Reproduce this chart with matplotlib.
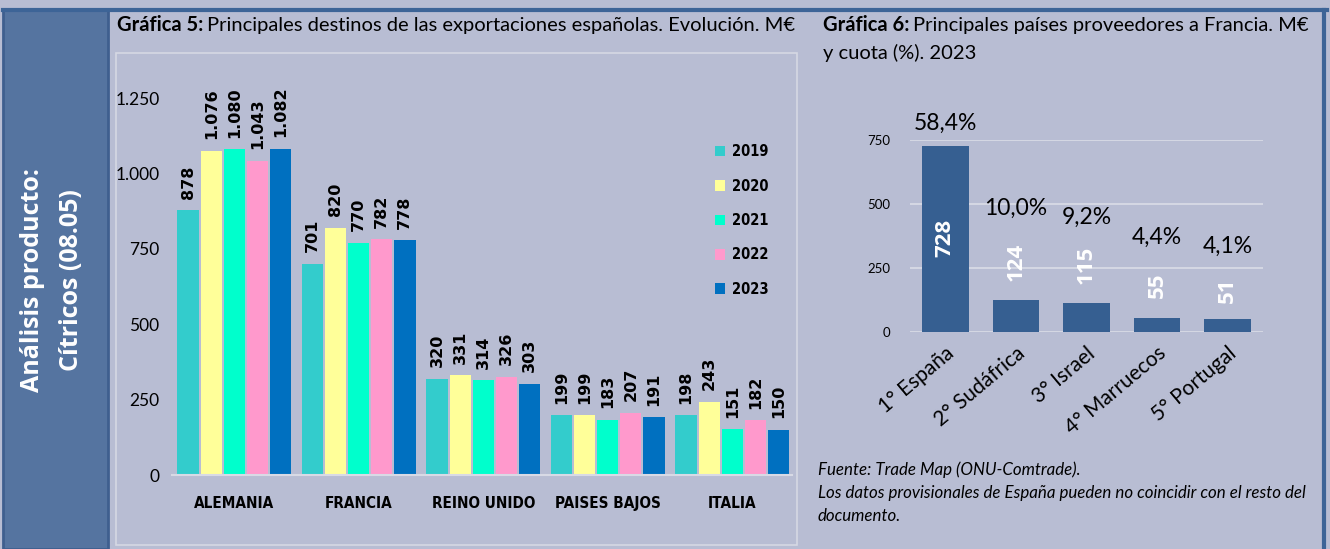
import numpy as np
import matplotlib.pyplot as plt
from matplotlib.patches import Rectangle
from matplotlib.font_manager import FontProperties

# datos grafica 5
paises = ['ALEMANIA', 'FRANCIA', 'REINO UNIDO', 'PAISES BAJOS', 'ITALIA']
anios = ['2019', '2020', '2021', '2022', '2023']
v2019 = [878, 701, 320, 199, 198]
v2020 = [1076, 820, 331, 199, 243]
v2021 = [1080, 770, 314, 183, 151]
v2022 = [1043, 782, 326, 207, 182]
v2023 = [1082, 778, 303, 191, 150]
colores = ['#33cccc', '#ffff99', '#00ffcc', '#ff99cc', '#0070c0']

# datos grafica 6
proveedores = ['1° España', '2° Sudáfrica', '3° Israel', '4° Marruecos', '5° Portugal']
valores6 = [728, 124, 115, 55, 51]
cuotas = ['58,4%', '10,0%', '9,2%', '4,4%', '4,1%']

W, H = 1330, 549
BG = '#b8bdd3'
fig = plt.figure(figsize=(W / 100, H / 100), dpi=100, facecolor=BG)
plt.rcParams['font.family'] = ['Lato', 'DejaVu Sans']


def box(x0, y0, x1, y1):
    # caja en pixeles (origen arriba izq) -> fraccion de figura
    return [x0 / W, 1 - y1 / H, (x1 - x0) / W, (y1 - y0) / H]


def fx(x):
    return x / W


def fy(y):
    return 1 - y / H


# marco y panel lateral
fig.patches.append(Rectangle((fx(3), 0), fx(108) - fx(3), fy(9), transform=fig.transFigure,
                             facecolor='#5574a0', edgecolor='#3f5f8f', lw=2))
fig.add_artist(plt.Line2D([fx(3), fx(1327)], [fy(10), fy(10)], color='#3d6497', lw=3))
fig.add_artist(plt.Line2D([fx(1324), fx(1324)], [fy(10), 0], color='#3d6497', lw=3))
fig.patches.append(Rectangle((fx(116), fy(545)), fx(797) - fx(116), fy(53) - fy(545),
                             transform=fig.transFigure, facecolor='none', edgecolor='#d6d8e3', lw=1.2))
fig.text(fx(33), fy(280), 'Análisis producto:', rotation=90, color='white', ha='center', va='center',
         fontfamily=['Open Sans', 'DejaVu Sans'], fontweight='bold', fontsize=18)
fig.text(fx(71), fy(280), 'Cítricos (08.05)', rotation=90, color='white', ha='center', va='center',
         fontfamily=['Open Sans', 'DejaVu Sans'], fontweight='bold', fontsize=18)

# titulos
t = fig.text(fx(117), fy(25), 'Gráfica 5:', fontsize=14.5, fontweight='bold', va='center')
fig.canvas.draw()
bb = t.get_window_extent()
fig.text(bb.x1 / W + 0.003, fy(25), 'Principales destinos de las exportaciones españolas. Evolución. M€',
         fontsize=14.5, va='center')
t2 = fig.text(fx(823), fy(25), 'Gráfica 6:', fontsize=14.5, fontweight='bold', va='center')
bb2 = t2.get_window_extent()
fig.text(bb2.x1 / W + 0.003, fy(25), 'Principales países proveedores a Francia. M€', fontsize=14.5, va='center')
fig.text(fx(823), fy(53), 'y cuota (%). 2023', fontsize=14.5, va='center')

# ---- grafica 5 ----
ax = fig.add_axes(box(172, 53, 792, 475))
ax.set_facecolor('none')
series = [v2019, v2020, v2021, v2022, v2023]
x = np.arange(len(paises))
step = 0.185
for i, (vals, col, an) in enumerate(zip(series, colores, anios)):
    pos = x + (i - 2) * step
    ax.bar(pos, vals, width=0.172, color=col, label=an)
    for p, v in zip(pos, vals):
        ax.text(p, v + 38, f'{v:,}'.replace(',', '.'), rotation=90, ha='center', va='bottom',
                fontfamily='DejaVu Sans', fontweight='bold', fontsize=11.5)
ax.set_ylim(0, 1400)
ax.set_xlim(-0.5, 4.48)
ax.set_yticks([0, 250, 500, 750, 1000, 1250])
ax.set_yticklabels(['0', '250', '500', '750', '1.000', '1.250'], fontsize=12.5)
ax.set_xticks(x)
ax.set_xticklabels(paises)
cat_font = FontProperties(family='DejaVu Sans', weight='bold', stretch='condensed', size=11)
for lab in ax.get_xticklabels():
    lab.set_fontproperties(cat_font)
ax.tick_params(length=0)
ax.tick_params(axis='x', pad=15)
ax.tick_params(axis='y', pad=9)
for s in ['top', 'right', 'left']:
    ax.spines[s].set_visible(False)
ax.spines['bottom'].set_color('#d8dae5')
ax.spines['bottom'].set_linewidth(1.5)
leg = ax.legend(loc='upper left', bbox_to_anchor=(0.855, 0.815), frameon=False,
                prop=FontProperties(family='DejaVu Sans', weight='bold', stretch='condensed', size=10.5),
                handlelength=0.7, handleheight=0.75, labelspacing=1.33, handletextpad=0.45)

# ---- grafica 6 ----
ax2 = fig.add_axes(box(910, 140, 1263, 332))
ax2.set_facecolor('none')
x2 = np.arange(len(proveedores))
ax2.bar(x2, valores6, width=0.66, color='#365f91', zorder=3)
ax2.set_xlim(-0.5, 4.5)
ax2.set_ylim(0, 750)
ax2.set_yticks([0, 250, 500, 750])
ax2.set_yticklabels(['0', '250', '500', '750'], fontsize=9.5)
ax2.grid(axis='y', color='#d8dae5', lw=1.3, zorder=0)
ax2.tick_params(length=0, pad=14)
for s in ax2.spines.values():
    s.set_visible(False)
ax2.set_xticks(x2)
ax2.set_xticklabels(proveedores, rotation=40, ha='right', rotation_mode='anchor', fontsize=15)
ax2.tick_params(axis='x', pad=8)
# posiciones de etiquetas (layout)
pct_y = [816, 484, 449, 371, 336]
val_y = [367, 273, 262, 182, 162]
for i in range(len(proveedores)):
    ax2.text(i, pct_y[i], cuotas[i], ha='center', va='center', fontsize=16.5, clip_on=False)
    ax2.text(i, val_y[i], str(valores6[i]), ha='center', va='center', rotation=90, color='white',
             fontfamily=['Open Sans', 'DejaVu Sans'], fontweight='bold', fontsize=16, clip_on=False)

fig.text(fx(818), fy(470), 'Fuente: Trade Map (ONU-Comtrade).', fontsize=12.2, style='italic', va='center')
fig.text(fx(818), fy(493), 'Los datos provisionales de España pueden no coincidir con el resto del',
         fontsize=12.2, style='italic', va='center')
fig.text(fx(818), fy(516), 'documento.', fontsize=12.2, style='italic', va='center')

fig.savefig('out.png', dpi=100, facecolor=BG)
